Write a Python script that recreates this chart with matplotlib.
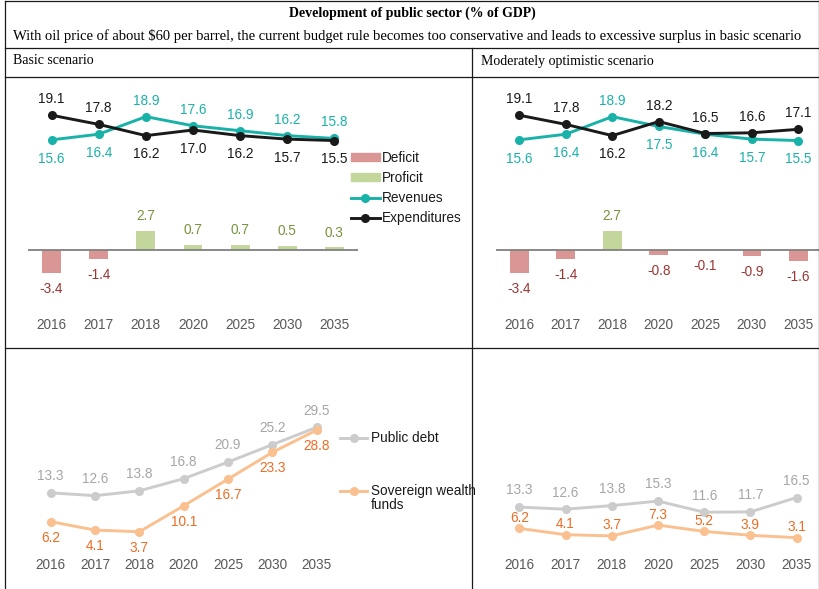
import matplotlib
matplotlib.use("Agg")
import matplotlib.pyplot as plt
from matplotlib.lines import Line2D
from matplotlib.patches import Patch

# ---------------- data ----------------
years = ["2016", "2017", "2018", "2020", "2025", "2030", "2035"]

basic_revenues = [15.6, 16.4, 18.9, 17.6, 16.9, 16.2, 15.8]
basic_expenditures = [19.1, 17.8, 16.2, 17.0, 16.2, 15.7, 15.5]
basic_balance = [-3.4, -1.4, 2.7, 0.7, 0.7, 0.5, 0.3]

opt_revenues = [15.6, 16.4, 18.9, 17.5, 16.4, 15.7, 15.5]
opt_expenditures = [19.1, 17.8, 16.2, 18.2, 16.5, 16.6, 17.1]
opt_balance = [-3.4, -1.4, 2.7, -0.8, -0.1, -0.9, -1.6]

basic_debt = [13.3, 12.6, 13.8, 16.8, 20.9, 25.2, 29.5]
basic_swf = [6.2, 4.1, 3.7, 10.1, 16.7, 23.3, 28.8]

opt_debt = [13.3, 12.6, 13.8, 15.3, 11.6, 11.7, 16.5]
opt_swf = [6.2, 4.1, 3.7, 7.3, 5.2, 3.9, 3.1]

title = "Development of public sector (% of GDP)"
subtitle = ("With oil price of about $60 per barrel, the current budget rule becomes "
            "too conservative and leads to excessive surplus in basic scenario")
left_head = "Basic scenario"
right_head = "Moderately optimistic scenario"
swf_label = ["Sovereign wealth", "funds"]

# label placement (style): +1 above, -1 below
basic_rev_pos = [-1, -1, 1, 1, 1, 1, 1]
basic_exp_pos = [1, 1, -1, -1, -1, -1, -1]
opt_rev_pos = [-1, -1, 1, -1, -1, -1, -1]
opt_exp_pos = [1, 1, -1, 1, 1, 1, 1]

# ---------------- style ----------------
C_DEF = "#D99694"
C_PRO = "#C3D69B"
C_DEF_T = "#9B3433"
C_PRO_T = "#77933C"
C_REV = "#19B2A9"
C_EXP = "#1A1A1A"
C_DEBT = "#CCCCCC"
C_DEBT_T = "#A6A6A6"
C_SWF = "#FAC08F"
C_SWF_T = "#EE6C22"
C_TICK = "#595959"
FS = 9.8

plt.rcParams["font.family"] = ["Liberation Sans", "DejaVu Sans"]

W, H = 820, 589
fig = plt.figure(figsize=(W / 100, H / 100), dpi=100)


def add_ax(l, r, t, b):
    return fig.add_axes([l / W, 1 - b / H, (r - l) / W, (b - t) / H])


def style_ax(ax, pad):
    for s in ax.spines.values():
        s.set_visible(False)
    ax.set_yticks([])
    ax.set_xticks(range(len(years)))
    ax.set_xticklabels(years, fontsize=FS, color=C_TICK)
    ax.tick_params(axis="x", length=0, pad=pad)
    ax.set_xlim(-0.5, len(years) - 0.5)
    ax.patch.set_alpha(0)


def budget_panel(ax, rev, exp, bal, rev_pos, exp_pos):
    x = range(len(years))
    cols = [C_PRO if v >= 0 else C_DEF for v in bal]
    ax.bar(x, bal, width=0.4, color=cols, zorder=2)
    ax.axhline(0, color="#808080", lw=1.3, zorder=3)
    for i, v in enumerate(bal):
        if v >= 0:
            ax.annotate(f"{v:.1f}", (i, v), xytext=(0, 10.5), textcoords="offset points",
                        ha="center", va="center", fontsize=FS, color=C_PRO_T)
        else:
            ax.annotate(f"{v:.1f}", (i, v), xytext=(0, -11.5), textcoords="offset points",
                        ha="center", va="center", fontsize=FS, color=C_DEF_T)
    ax.plot(x, rev, color=C_REV, lw=2.1, marker="o", ms=5.5, zorder=4)
    ax.plot(x, exp, color=C_EXP, lw=2.1, marker="o", ms=5.5, zorder=5)
    for vals, pos, c in ((rev, rev_pos, C_REV), (exp, exp_pos, C_EXP)):
        for i, v in enumerate(vals):
            off = 11.5 if pos[i] > 0 else -13.5
            ax.annotate(f"{v:.1f}", (i, v), xytext=(0, off), textcoords="offset points",
                        ha="center", va="center", fontsize=FS, color=c)
    ax.set_ylim(-8.6, 23.4)


# top-left
ax1 = add_ax(28, 358, 85, 310)
style_ax(ax1, 5.5)
budget_panel(ax1, basic_revenues, basic_expenditures, basic_balance, basic_rev_pos, basic_exp_pos)

# top-right
ax2 = add_ax(496, 821.6, 85, 310)
style_ax(ax2, 5.5)
budget_panel(ax2, opt_revenues, opt_expenditures, opt_balance, opt_rev_pos, opt_exp_pos)

leg1 = ax1.legend(
    handles=[
        Patch(color=C_DEF, label="Deficit"),
        Patch(color=C_PRO, label="Proficit"),
        Line2D([], [], color=C_REV, lw=2.1, marker="o", ms=5.5, label="Revenues"),
        Line2D([], [], color=C_EXP, lw=2.1, marker="o", ms=5.5, label="Expenditures"),
    ],
    loc="upper left", bbox_to_anchor=(351 / W, 1 - 151 / H), bbox_transform=fig.transFigure,
    frameon=False, fontsize=FS, handlelength=2.1, handleheight=0.5, handletextpad=0.2,
    labelspacing=0.44, borderpad=0, borderaxespad=0, labelcolor="#1A1A1A",
)


def stock_panel(ax, debt, swf, swf_above, swf_off):
    x = range(len(years))
    ax.plot(x, debt, color=C_DEBT, lw=2.1, marker="o", ms=5.5, zorder=3)
    ax.plot(x, swf, color=C_SWF, lw=2.1, marker="o", ms=5.5, zorder=4)
    for i, v in enumerate(debt):
        ax.annotate(f"{v:.1f}", (i, v), xytext=(0, 12), textcoords="offset points",
                    ha="center", va="center", fontsize=FS, color=C_DEBT_T)
    for i, v in enumerate(swf):
        ax.annotate(f"{v:.1f}", (i, v), xytext=(0, swf_off if swf_above else -swf_off),
                    textcoords="offset points", ha="center", va="center",
                    fontsize=FS, color=C_SWF_T, zorder=5)


# bottom-left
ax3 = add_ax(28.5, 338.9, 360, 550)
style_ax(ax3, 5.5)
stock_panel(ax3, basic_debt, basic_swf, False, 11.5)
ax3.set_ylim((546.7 - 550) / 4.05, (546.7 - 360) / 4.05)

# bottom-right
ax4 = add_ax(496.2, 819.8, 360, 550)
style_ax(ax4, 5.5)
stock_panel(ax4, opt_debt, opt_swf, True, 7.5)
ax4.set_ylim((547 - 550) / 3.0, (547 - 360) / 3.0)

lg_a = fig.legend(
    handles=[Line2D([], [], color=C_DEBT, lw=2.1, marker="o", ms=5.5, label="Public debt")],
    loc="upper left", bbox_to_anchor=(340 / W, 1 - 431.5 / H), frameon=False, fontsize=FS,
    handlelength=2.0, handletextpad=0.25, borderpad=0, borderaxespad=0, labelcolor="#1A1A1A",
)
lg_b = fig.legend(
    handles=[Line2D([], [], color=C_SWF, lw=2.1, marker="o", ms=5.5, label=swf_label[0])],
    loc="upper left", bbox_to_anchor=(340 / W, 1 - 484.5 / H), frameon=False, fontsize=FS,
    handlelength=2.0, handletextpad=0.25, borderpad=0, borderaxespad=0, labelcolor="#1A1A1A",
)
fig.text(371 / W, 1 - 505 / H, swf_label[1], ha="left", va="center", fontsize=FS,
         color="#1A1A1A")

# ---------------- header / table lines ----------------
serif = ["Liberation Serif", "DejaVu Serif"]
fig.text(412 / W, 1 - 13 / H, title, ha="center", va="center", fontsize=10,
         fontweight="bold", family=serif)
fig.text(13 / W, 1 - 36 / H, subtitle, ha="left", va="center", fontsize=10.53, family=serif)
fig.text(13 / W, 1 - 61 / H, left_head, ha="left", va="center", fontsize=10, family=serif)
fig.text(481 / W, 1 - 61 / H, right_head, ha="left", va="center", fontsize=10, family=serif)


def fline(x0, y0, x1, y1):
    fig.add_artist(Line2D([x0 / W, x1 / W], [1 - y0 / H, 1 - y1 / H], color="#1A1A1A",
                          lw=0.9, transform=fig.transFigure))


fline(5, 1, 819, 1)
fline(5, 1, 5, 589)
fline(819, 1, 819, 589)
fline(5, 48, 819, 48)
fline(5, 77, 819, 77)
fline(5, 348, 819, 348)
fline(472, 48, 472, 589)

fig.savefig("out.png", dpi=100)
